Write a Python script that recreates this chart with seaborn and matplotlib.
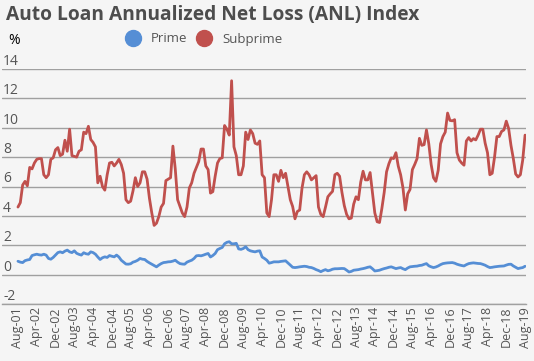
import pandas as pd
import numpy as np
import seaborn as sns
from matplotlib import pyplot as plt
from matplotlib import transforms
from matplotlib.lines import Line2D

# monthly readings, Aug-01 .. Aug-19
subprime = [
    4.6, 4.9, 6.1, 6.35, 6.05, 7.3, 7.2, 7.6, 7.85, 7.9,
    7.9, 6.8, 6.6, 6.8, 7.85, 7.95, 8.5, 8.65, 8.1, 8.2,
    9.15, 8.4, 9.9, 8.1, 8.05, 8.0, 8.4, 8.5, 9.7, 9.6,
    10.1, 9.2, 9.0, 8.7, 6.25, 6.7, 6.0, 5.75, 6.8, 7.6,
    7.65, 7.4, 7.6, 7.85, 7.5, 6.9, 5.1, 4.9, 5.0, 5.7,
    6.6, 6.0, 6.25, 7.0, 7.0, 6.5, 5.2, 4.2, 3.35, 3.5,
    3.95, 4.6, 4.85, 6.4, 6.5, 6.6, 8.75, 7.2, 5.1, 4.65,
    4.2, 3.95, 4.6, 5.9, 6.25, 6.9, 7.3, 7.7, 8.55, 8.55,
    7.4, 7.15, 5.55, 5.65, 6.7, 7.6, 7.9, 7.95, 10.15, 9.9,
    9.5, 13.2, 8.7, 8.1, 6.8, 6.8, 7.4, 9.7, 9.2, 9.85,
    9.6, 8.95, 8.87, 9.1, 6.8, 6.6, 4.2, 3.95, 5.1, 6.8,
    6.8, 6.35, 7.1, 6.6, 6.9, 6.0, 5.1, 4.64, 3.8, 4.3,
    4.4, 5.9, 6.8, 7.0, 6.8, 6.45, 6.6, 6.74, 4.6, 4.1,
    3.95, 4.6, 5.3, 5.5, 5.67, 6.8, 6.9, 6.7, 5.6, 4.7,
    4.1, 3.8, 3.85, 4.8, 5.3, 5.1, 6.3, 7.04, 6.45, 6.45,
    6.95, 5.55, 4.2, 3.6, 3.55, 4.5, 5.6, 7.0, 7.55, 7.95,
    7.9, 8.3, 7.38, 6.8, 5.9, 4.4, 5.5, 5.8, 7.15, 7.5,
    7.9, 9.28, 8.8, 8.85, 9.85, 8.9, 7.5, 6.6, 6.35, 7.1,
    8.9, 9.4, 9.7, 11.0, 10.5, 10.47, 10.55, 8.3, 7.8, 7.6,
    7.45, 9.1, 9.33, 9.1, 9.26, 9.17, 9.5, 9.9, 9.9, 8.95,
    8.3, 6.8, 6.9, 8.0, 9.4, 9.4, 9.75, 9.85, 10.45, 9.95,
    8.8, 7.9, 6.85, 6.65, 6.8, 7.8, 9.5,
]
prime = [
    0.91, 0.85, 0.82, 0.95, 1.0, 1.03, 1.3, 1.35, 1.39, 1.35,
    1.33, 1.39, 1.33, 1.1, 1.05, 1.17, 1.33, 1.5, 1.55, 1.49,
    1.6, 1.67, 1.55, 1.5, 1.62, 1.45, 1.38, 1.33, 1.49, 1.42,
    1.39, 1.55, 1.5, 1.39, 1.2, 1.03, 1.15, 1.21, 1.17, 1.3,
    1.25, 1.21, 1.33, 1.2, 0.98, 0.85, 0.72, 0.71, 0.74, 0.85,
    0.9, 0.98, 1.1, 1.05, 1.03, 0.9, 0.8, 0.71, 0.62, 0.53,
    0.65, 0.75, 0.82, 0.84, 0.87, 0.88, 0.92, 0.98, 0.85, 0.75,
    0.72, 0.71, 0.85, 0.92, 0.98, 1.1, 1.28, 1.3, 1.28, 1.33,
    1.39, 1.44, 1.2, 1.3, 1.44, 1.7, 1.78, 1.85, 2.1, 2.2,
    2.24, 2.1, 2.1, 2.13, 1.75, 1.72, 1.78, 1.9, 1.7, 1.62,
    1.58, 1.55, 1.6, 1.62, 1.2, 1.1, 0.98, 0.78, 0.82, 0.87,
    0.87, 0.87, 0.9, 0.92, 0.94, 0.8, 0.65, 0.5, 0.48, 0.5,
    0.53, 0.55, 0.57, 0.55, 0.5, 0.48, 0.42, 0.34, 0.28, 0.2,
    0.28, 0.34, 0.26, 0.3, 0.37, 0.4, 0.4, 0.41, 0.42, 0.41,
    0.3, 0.18, 0.22, 0.3, 0.32, 0.34, 0.38, 0.41, 0.45, 0.5,
    0.53, 0.4, 0.25, 0.27, 0.3, 0.36, 0.41, 0.45, 0.5, 0.53,
    0.47, 0.41, 0.45, 0.48, 0.4, 0.34, 0.45, 0.53, 0.55, 0.57,
    0.58, 0.62, 0.64, 0.7, 0.75, 0.6, 0.53, 0.48, 0.52, 0.59,
    0.68, 0.75, 0.78, 0.8, 0.81, 0.82, 0.78, 0.71, 0.66, 0.62,
    0.59, 0.68, 0.75, 0.78, 0.8, 0.78, 0.76, 0.75, 0.7, 0.64,
    0.55, 0.48, 0.5, 0.53, 0.55, 0.57, 0.58, 0.59, 0.65, 0.7,
    0.71, 0.59, 0.5, 0.41, 0.45, 0.48, 0.57,
]
months = pd.date_range('2001-08-01', periods=len(subprime), freq='MS')
y_ticks = [-2, 0, 2, 4, 6, 8, 10, 12, 14]

blue = '#558ed5'
red = '#c0504d'
txt = '#555555'

df = pd.DataFrame({
    'idx': list(range(len(months))) * 2,
    'value': prime + subprime,
    'series': ['Prime'] * len(prime) + ['Subprime'] * len(subprime),
})

sns.set_style('white')
plt.rcParams['font.family'] = ['Open Sans', 'DejaVu Sans']

fig = plt.figure(figsize=(5.34, 3.61), dpi=100, facecolor='#f5f5f5')
ax = fig.add_axes([2 / 534, 1 - 304 / 361, 524 / 534, 235 / 361])
ax.set_facecolor('#f5f5f5')

sns.lineplot(data=df, x='idx', y='value', hue='series',
             palette={'Prime': blue, 'Subprime': red},
             linewidth=2, legend=False, ax=ax)

ax.set_xlim(-6.8, len(months) - 0.6)
ax.set_ylim(-2, 14)
ax.set_yticks(y_ticks)
ax.yaxis.grid(True, color='#a0a0a0', linewidth=1)
ax.set_yticklabels([])
ax.tick_params(axis='y', length=0)
for s in ['top', 'right', 'left']:
    ax.spines[s].set_visible(False)
ax.spines['bottom'].set_color('#a0a0a0')
ax.spines['bottom'].set_linewidth(1)

tick_idx = list(range(0, len(months), 8))
ax.set_xticks(tick_idx)
ax.set_xticklabels([months[i].strftime('%b-%y') for i in tick_idx],
                   rotation=90, fontsize=9, color=txt)
ax.tick_params(axis='x', length=0, pad=2)
ax.set_xlabel('')
ax.set_ylabel('')

trans = transforms.blended_transform_factory(fig.transFigure, ax.transData)
for v in y_ticks:
    ax.text(3 / 534, v, str(v), transform=trans, ha='left',
            va='bottom', fontsize=10, color=txt)

fig.text(6 / 534, 1 - 15 / 361, 'Auto Loan Annualized Net Loss (ANL) Index',
         fontsize=13.8, fontweight='bold', color='#4d4d4d', va='center',
         ha='left')
fig.text(14 / 534, 1 - 41 / 361, '%', fontsize=10, color='black',
         va='center', ha='center')

handles = [Line2D([], [], linestyle='none', marker='o', markersize=11.5,
                  color=blue, label='Prime'),
           Line2D([], [], linestyle='none', marker='o', markersize=11.5,
                  color=red, label='Subprime')]
fig.legend(handles=handles, loc='center left', ncol=2, frameon=False,
           bbox_to_anchor=(113 / 534, 1 - 39 / 361), fontsize=9.5,
           labelcolor=txt, handletextpad=0.76, columnspacing=0.68,
           handlelength=1.2)

fig.savefig('out.png', dpi=100, facecolor=fig.get_facecolor())
